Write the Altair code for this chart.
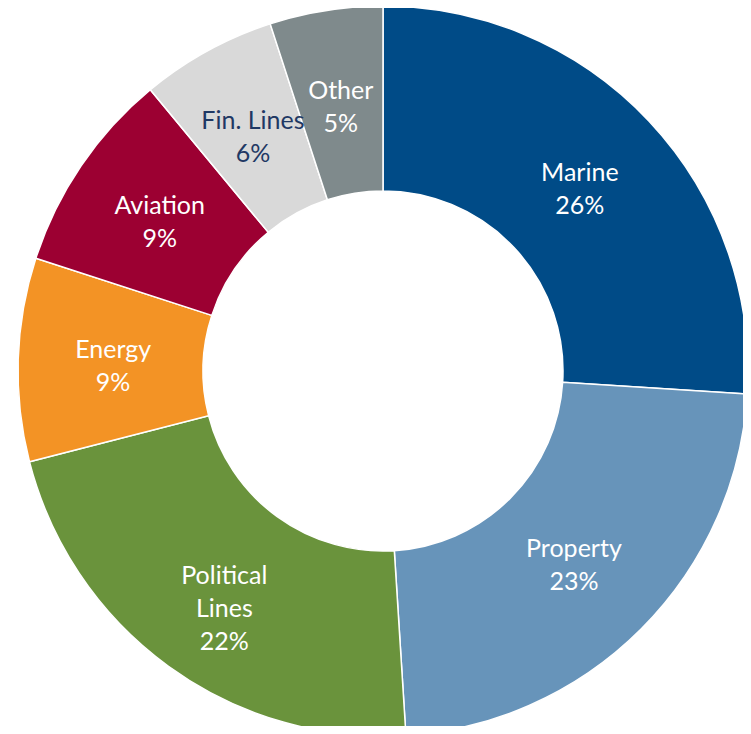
import altair as alt
import pandas as pd

categories = ["Marine", "Property", "Political Lines", "Energy", "Aviation", "Fin. Lines", "Other"]
values = [26, 23, 22, 9, 9, 6, 5]
labels = ["Marine\n26%", "Property\n23%", "Political\nLines\n22%", "Energy\n9%", "Aviation\n9%", "Fin. Lines\n6%", "Other\n5%"]
colors = ["#004B87", "#6794BA", "#6A933C", "#F39325", "#9C0032", "#D9D9D9", "#7F8A8C"]
text_colors = ["#FFFFFF", "#FFFFFF", "#FFFFFF", "#FFFFFF", "#FFFFFF", "#1F3864", "#FFFFFF"]

df = pd.DataFrame({
    "category": categories,
    "value": values,
    "label": labels,
    "order": list(range(len(categories))),
    "tcolor": text_colors,
})

base = alt.Chart(df).encode(
    theta=alt.Theta("value:Q", stack=True),
    order=alt.Order("order:Q"),
    x=alt.value(375),
    y=alt.value(363),
)

arcs = base.mark_arc(outerRadius=365, innerRadius=180, stroke="white", strokeWidth=1.5).encode(
    color=alt.Color("category:N", scale=alt.Scale(domain=categories, range=colors), legend=None),
)

text = base.mark_text(radius=270, font="Lato", fontSize=25, lineBreak="\n", align="center",
                      baseline="middle", lineHeight=33, dy=-13).encode(
    text="label:N",
    color=alt.Color("tcolor:N", scale=None),
)

chart = alt.layer(arcs, text).properties(
    width=735, height=718, padding=0,
    autosize=alt.AutoSizeParams(type="none"),
).configure_view(stroke=None)

chart.save("out.html", embed_options={"renderer": "svg", "actions": False})
